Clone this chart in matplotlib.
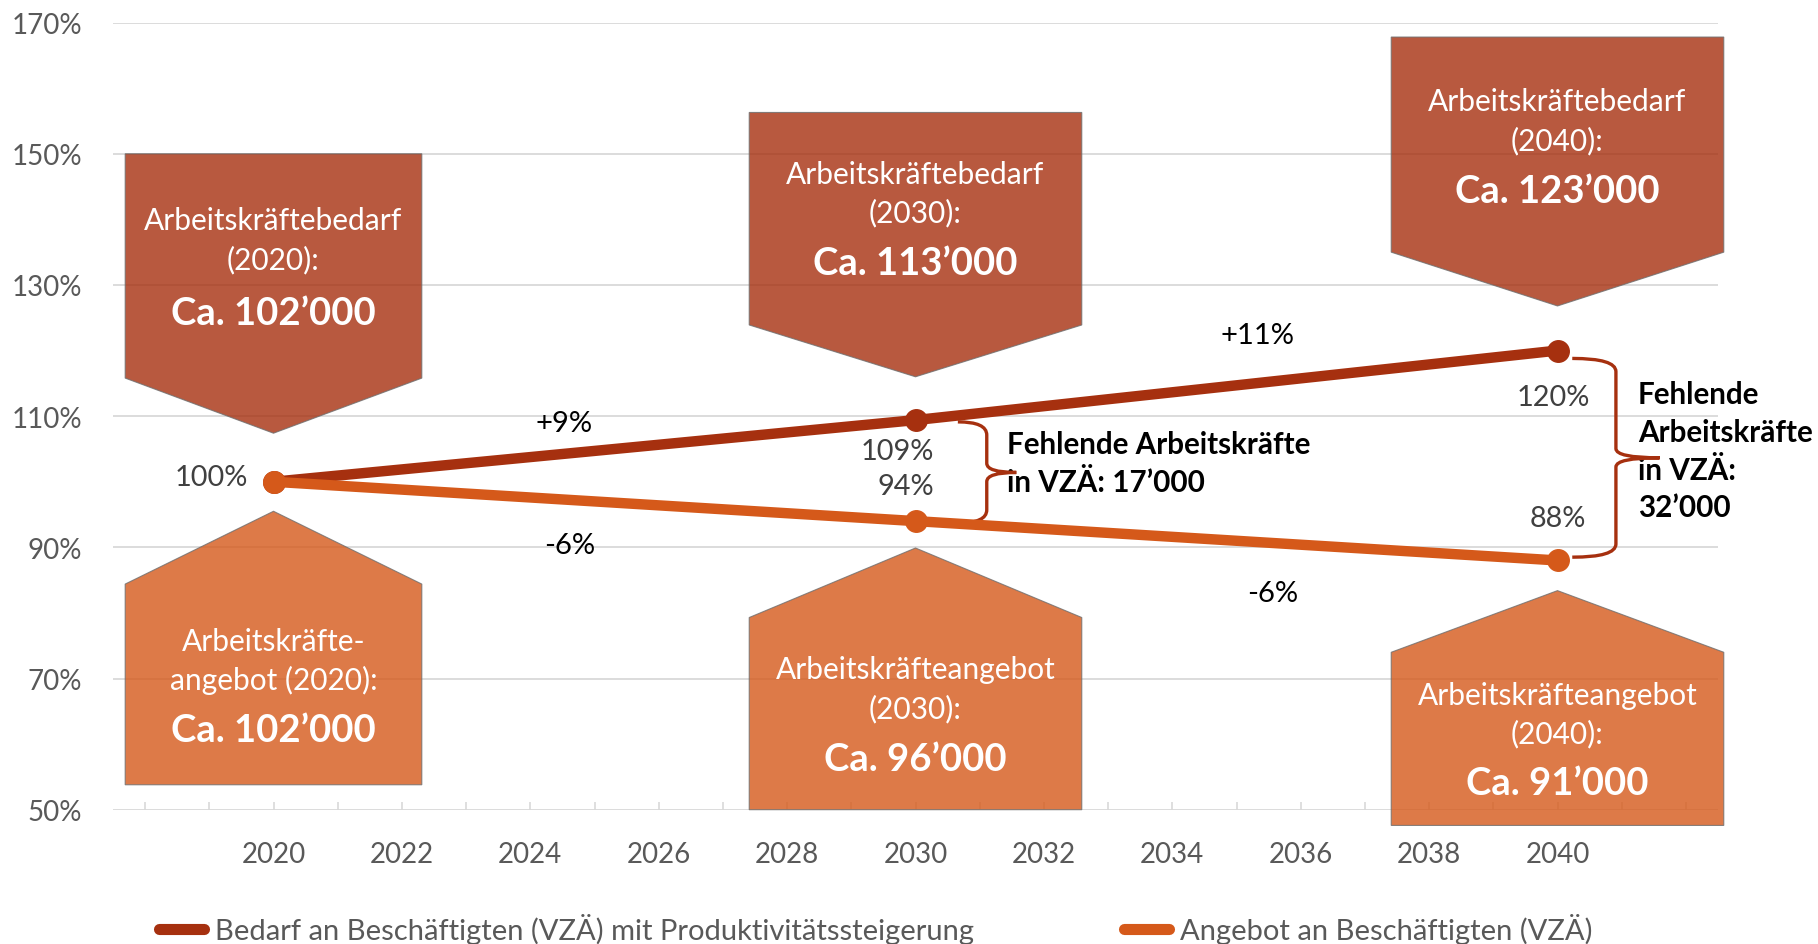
import matplotlib
matplotlib.use("Agg")
import matplotlib.pyplot as plt
from matplotlib.patches import Polygon, PathPatch
from matplotlib.path import Path
from matplotlib.lines import Line2D

# data
years = [2020, 2030, 2040]
demand = [100, 109.4, 120]
supply = [100, 94, 88]
demand_labels = ["100%", "109%", "120%"]
supply_labels = ["100%", "94%", "88%"]
demand_change = ["+9%", "+11%"]
supply_change = ["-6%", "-6%"]
demand_people = ["Ca. 102’000", "Ca. 113’000", "Ca. 123’000"]
supply_people = ["Ca. 102’000", "Ca. 96’000", "Ca. 91’000"]
demand_head = ["Arbeitskräftebedarf\n(2020):", "Arbeitskräftebedarf\n(2030):", "Arbeitskräftebedarf\n(2040):"]
supply_head = ["Arbeitskräfte-\nangebot (2020):", "Arbeitskräfteangebot\n(2030):", "Arbeitskräfteangebot\n(2040):"]
gap_text = ["Fehlende Arbeitskräfte\nin VZÄ: 17’000", "Fehlende\nArbeitskräfte\nin VZÄ:\n32’000"]
series_names = ["Bedarf an Beschäftigten (VZÄ) mit Produktivitätssteigerung",
                "Angebot an Beschäftigten (VZÄ)"]
yticks = [50, 70, 90, 110, 130, 150, 170]
xlabel_years = list(range(2020, 2041, 2))

c_dem = "#A6300F"
c_sup = "#D5591A"
c_grid = "#D9D9D9"
c_tick = "#595959"

plt.rcParams["font.family"] = ["Lato", "DejaVu Sans"]

fig = plt.figure(figsize=(18.18, 9.45), dpi=100)
ax = fig.add_axes([113 / 1818, 134.3 / 945, 1605 / 1818, 787.1 / 945])
ax.set_xlim(2017.5, 2042.5)
ax.set_ylim(50, 170)
for s in ax.spines.values():
    s.set_visible(False)
ax.set_yticks(yticks)
ax.set_yticklabels([f"{v}%" for v in yticks])
ax.grid(axis="y", color=c_grid, lw=1.3, zorder=0)
ax.set_axisbelow(True)
ax.tick_params(axis="y", length=0, pad=22, labelsize=20, labelcolor=c_tick)
ax.set_xticks(range(2018, 2043))
ax.set_xticklabels([str(y) if y in xlabel_years else "" for y in range(2018, 2043)])
ax.tick_params(axis="x", direction="in", length=6, width=1.2, color=c_grid,
               pad=22.5, labelsize=20, labelcolor=c_tick)


def down_box(cx, hw, top, body, tip, color):
    pts = [(cx - hw, top), (cx + hw, top), (cx + hw, body), (cx, tip), (cx - hw, body)]
    ax.add_patch(Polygon(pts, closed=True, fc=color, alpha=0.8, ec="#6E6E6E", lw=0.8,
                         zorder=2, clip_on=False))


def up_box(cx, hw, tip, shoulder, bottom, color):
    pts = [(cx, tip), (cx + hw, shoulder), (cx + hw, bottom), (cx - hw, bottom), (cx - hw, shoulder)]
    ax.add_patch(Polygon(pts, closed=True, fc=color, alpha=0.8, ec="#6E6E6E", lw=0.8,
                         zorder=2, clip_on=False))


def box_text(x, head, ymid, big, ybig):
    l1, l2 = head.split("\n")
    ax.text(x, ymid + 2.95, l1, ha="center", va="center", color="white", fontsize=21.5, zorder=3)
    ax.text(x, ymid - 2.95, l2, ha="center", va="center", color="white", fontsize=21.5, zorder=3)
    ax.text(x, ybig, big, ha="center", va="center", color="white", fontsize=27.5,
            fontweight="bold", zorder=3)


# callout boxes (layout)
dem_hw = [2.31, 2.59, 2.59]
dem_geo = [(150, 115.8, 107.4), (156.3, 123.9, 116.0), (167.8, 135.0, 126.8)]
dem_txt = [(136.9, 125.8), (144.0, 133.3), (155.1, 144.4)]
sup_geo = [(95.5, 84.4, 53.8), (89.9, 79.3, 50.0), (83.4, 74.0, 47.6)]
sup_txt = [(72.8, 62.1), (68.5, 57.8), (64.6, 54.0)]

for i, yr in enumerate(years):
    down_box(yr, dem_hw[i], *dem_geo[i], c_dem)
    box_text(yr, demand_head[i], dem_txt[i][0], demand_people[i], dem_txt[i][1])
    up_box(yr, dem_hw[i], *sup_geo[i], c_sup)
    box_text(yr, supply_head[i], sup_txt[i][0], supply_people[i], sup_txt[i][1])

# series
ax.plot(years, demand, color=c_dem, lw=7.5, marker="o", ms=15.5, zorder=5,
        solid_capstyle="round")
ax.plot(years, supply, color=c_sup, lw=7.5, marker="o", ms=15.5, zorder=5,
        solid_capstyle="round")

# value labels
c_lab = "#404040"
fs_lab = 20.8
ax.text(2019.6, 100.7, demand_labels[0], ha="right", va="center", fontsize=fs_lab, color=c_lab)
ax.text(2030.29, 104.7, demand_labels[1], ha="right", va="center", fontsize=fs_lab, color=c_lab)
ax.text(2030.29, 99.4, supply_labels[1], ha="right", va="center", fontsize=fs_lab, color=c_lab)
ax.text(2040.51, 112.9, demand_labels[2], ha="right", va="center", fontsize=fs_lab, color=c_lab)
ax.text(2040.44, 94.4, supply_labels[2], ha="right", va="center", fontsize=fs_lab, color=c_lab)

# change labels
ax.text(2024.53, 108.9, demand_change[0], ha="center", va="center", fontsize=21, color="black")
ax.text(2035.33, 122.4, demand_change[1], ha="center", va="center", fontsize=21, color="black")
ax.text(2024.62, 90.4, supply_change[0], ha="center", va="center", fontsize=21, color="black")
ax.text(2035.57, 83.1, supply_change[1], ha="center", va="center", fontsize=21, color="black")


def brace(x0, xv, xt, top, bottom, r, rt):
    mid = (top + bottom) / 2
    verts = [(x0, top), (xv, top), (xv, top - r),
             (xv, mid + rt), (xv, mid), (xt, mid),
             (xv, mid), (xv, mid - rt),
             (xv, bottom + r), (xv, bottom), (x0, bottom)]
    codes = [Path.MOVETO, Path.CURVE3, Path.CURVE3,
             Path.LINETO, Path.CURVE3, Path.CURVE3,
             Path.CURVE3, Path.CURVE3,
             Path.LINETO, Path.CURVE3, Path.CURVE3]
    ax.add_patch(PathPatch(Path(verts, codes), fc="none", ec=c_dem, lw=2.4,
                           zorder=4, clip_on=False, capstyle="butt"))


brace(2030.66, 2031.11, 2031.57, demand[1] - 0.27, supply[1] - 0.3, 2.0, 1.4)
brace(2040.23, 2040.91, 2041.59, demand[2] - 1.2, supply[2] + 0.5, 2.0, 1.4)

ax.text(2031.42, 102.9, gap_text[0], ha="left", va="center", fontsize=21.3,
        fontweight="bold", color="black", linespacing=1.42)
ax.text(2041.25, 104.7, gap_text[1], ha="left", va="center", fontsize=21.3,
        fontweight="bold", color="black", linespacing=1.42, clip_on=False)

# legend
handles = [Line2D([], [], color=c_dem, lw=8, solid_capstyle="round"),
           Line2D([], [], color=c_sup, lw=8, solid_capstyle="round")]
fig.legend(handles, series_names, ncol=2, loc="center left",
           bbox_to_anchor=(159 / 1818, 15 / 945), frameon=False, fontsize=21,
           labelcolor=c_tick, handlelength=1.55, handletextpad=0.36,
           columnspacing=5.15, borderpad=0, borderaxespad=0)

fig.savefig("out.png", dpi=100)
